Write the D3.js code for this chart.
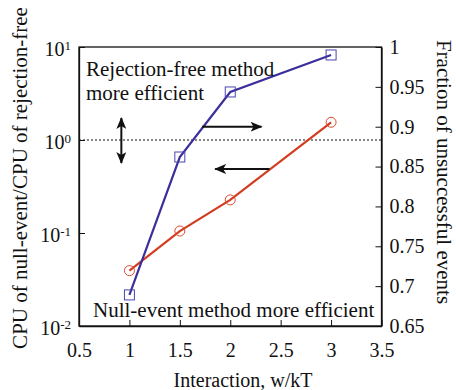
<!DOCTYPE html>
<html><head><meta charset="utf-8">
<script src="https://cdn.jsdelivr.net/npm/d3@7"></script>
<style>body{margin:0;background:#fff}svg{display:block}text{font-family:"Liberation Serif","Times New Roman",serif;fill:#111}</style>
</head><body><svg id="c" width="456" height="390"></svg>
<script>
const xVals = [1, 1.5, 2, 3];
const fractionUnsuccessful = [0.689, 0.862, 0.9436, 0.990]; // blue, right axis
const cpuRatio = [0.0394, 0.105, 0.227, 1.55];              // red, left axis (log)
const xTicks = [0.5, 1, 1.5, 2, 2.5, 3, 3.5];
const leftTicks = [0.01, 0.1, 1, 10];
const leftExps = ["-2", "-1", "0", "1"];
const rightTicks = [0.65, 0.7, 0.75, 0.8, 0.85, 0.9, 0.95, 1];

const svg = d3.select("#c");
const L = 79, R = 381.5, T = 47, B = 326;
const x = d3.scaleLinear().domain([0.5, 3.5]).range([L, R]);
const yL = d3.scaleLog().domain([0.01, 10]).range([B, T]);
const yR = d3.scaleLinear().domain([0.65, 1]).range([B, T]);
const blue = "#3b2f9b", red = "#d23d1f";
const FONT = '"Liberation Serif",serif';

// frame
svg.append("rect").attr("x", L).attr("y", T).attr("width", R - L).attr("height", B - T)
  .attr("fill", "none").attr("stroke", "#111").attr("stroke-width", 1.3);

// axes (inward ticks)
const ax = svg.append("g").attr("transform", `translate(0,${B})`)
  .call(d3.axisBottom(x).tickValues(xTicks).tickSizeInner(-6).tickSizeOuter(0).tickPadding(17).tickFormat(d3.format("")));
const al = svg.append("g").attr("transform", `translate(${L},0)`)
  .call(d3.axisLeft(yL).tickValues(leftTicks).tickSizeInner(-6).tickSizeOuter(0).tickFormat(""));
const ar = svg.append("g").attr("transform", `translate(${R},0)`)
  .call(d3.axisRight(yR).tickValues(rightTicks).tickSizeInner(-6).tickSizeOuter(0).tickPadding(8).tickFormat(d => d3.format("")(+d.toFixed(2))));
[ax, al, ar].forEach(g => {
  g.select(".domain").attr("stroke", "#111").attr("stroke-width", 1.3);
  g.selectAll(".tick line").attr("stroke", "#111");
  g.selectAll("text").attr("font-size", 20).attr("fill", "#111").style("font-family", FONT);
});
ax.selectAll("text").attr("dy", "0.71em");

// left log labels as 10^n
al.selectAll(".tick").each(function (d, i) {
  const t = d3.select(this).append("text").attr("x", -8).attr("dy", "0.4em").attr("text-anchor", "end")
    .attr("font-size", 20).style("font-family", FONT).attr("fill", "#111");
  t.append("tspan").text("10");
  t.append("tspan").attr("dy", "-0.45em").attr("font-size", 13).text(leftExps[i]);
});

// dotted reference line at 1
svg.append("line").attr("x1", L).attr("x2", R).attr("y1", yL(1)).attr("y2", yL(1))
  .attr("stroke", "#111").attr("stroke-width", 1).attr("stroke-dasharray", "2,2");

// series
const lineR = d3.line().x((d, i) => x(xVals[i])).y(d => yL(d));
const lineB = d3.line().x((d, i) => x(xVals[i])).y(d => yR(d));
svg.append("path").datum(cpuRatio).attr("d", lineR).attr("fill", "none").attr("stroke", red).attr("stroke-width", 2.2);
svg.append("path").datum(fractionUnsuccessful).attr("d", lineB).attr("fill", "none").attr("stroke", blue).attr("stroke-width", 2.2);
svg.selectAll(".rc").data(cpuRatio).enter().append("circle")
  .attr("cx", (d, i) => x(xVals[i])).attr("cy", d => yL(d)).attr("r", 5)
  .attr("fill", "none").attr("stroke", "#e04a30").attr("stroke-width", 1);
svg.selectAll(".bs").data(fractionUnsuccessful).enter().append("rect")
  .attr("x", (d, i) => x(xVals[i]) - 5).attr("y", d => yR(d) - 5).attr("width", 10).attr("height", 10)
  .attr("fill", "none").attr("stroke", "#4a44b0").attr("stroke-width", 1);

// arrows
const defs = svg.append("defs");
defs.append("marker").attr("id", "ah").attr("viewBox", "0 0 12 10").attr("refX", 11).attr("refY", 5)
  .attr("markerWidth", 12).attr("markerHeight", 10).attr("markerUnits", "userSpaceOnUse").attr("orient", "auto-start-reverse")
  .append("path").attr("d", "M0,0 L12,5 L0,10 L3,5 Z").attr("fill", "#111");
function arrow(x1, y1, x2, y2, both) {
  const l = svg.append("line").attr("x1", x1).attr("y1", y1).attr("x2", x2).attr("y2", y2)
    .attr("stroke", "#111").attr("stroke-width", 2).attr("marker-end", "url(#ah)");
  if (both) l.attr("marker-start", "url(#ah)");
}
arrow(x(1.72), yR(0.9), x(2.31), yR(0.9));
arrow(x(2.39), 169, x(1.85), 169);
arrow(x(0.92), 118, x(0.92), 163, true);

// annotations
const ann = svg.append("g").attr("font-size", 21);
ann.append("text").attr("x", 86).attr("y", 76).text("Rejection-free method");
ann.append("text").attr("x", 86).attr("y", 100).text("more efficient");
ann.append("text").attr("x", 93).attr("y", 317).text("Null-event method more efficient");

// axis titles
svg.append("text").attr("x", 243).attr("y", 387).attr("text-anchor", "middle").attr("font-size", 20).text("Interaction, w/kT");
svg.append("text").attr("transform", "translate(27,178) rotate(-90)").attr("text-anchor", "middle").attr("font-size", 21)
  .text("CPU of null-event/CPU of rejection-free");
svg.append("text").attr("transform", "translate(437,172) rotate(90)").attr("text-anchor", "middle").attr("font-size", 21)
  .text("Fraction of unsuccessful events");
</script></body></html>
